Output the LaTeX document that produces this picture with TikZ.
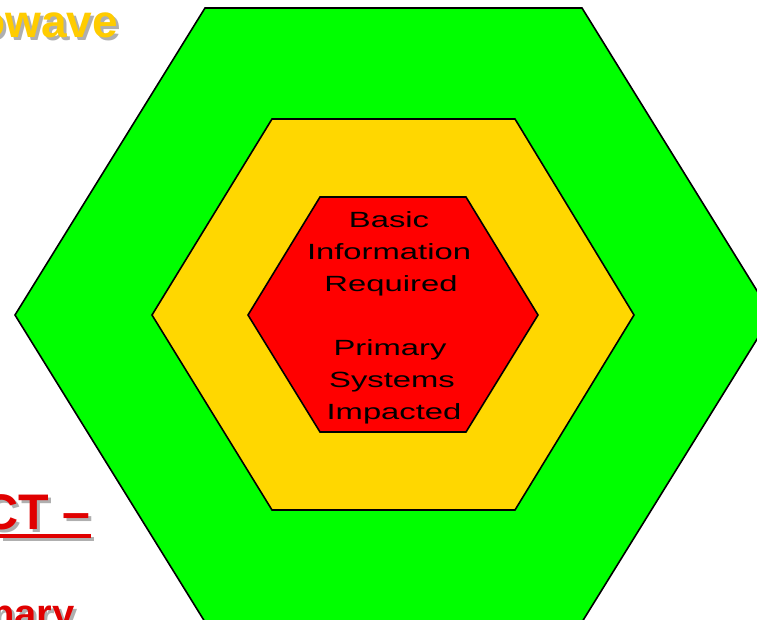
\documentclass[tikz,border=0pt]{standalone}
\usepackage{fontspec}
\setmainfont{Liberation Sans}
\usepackage{graphicx}
\definecolor{hexgreen}{RGB}{0,255,0}
\definecolor{hexgold}{RGB}{255,215,0}
\definecolor{hexred}{RGB}{255,0,0}
\definecolor{titlegold}{RGB}{255,204,0}
\definecolor{titlered}{RGB}{224,0,0}
\definecolor{shadowgray}{RGB}{175,175,175}
\tikzset{
  hexline/.style={draw=black, line width=1.6pt, line join=miter},
  inner/.style={font=\fontsize{22}{22}\selectfont, anchor=base, inner sep=0pt, text=black},
  bigtxt/.style={font=\fontsize{46}{46}\selectfont\bfseries, anchor=base east, inner sep=0pt},
  redtxt/.style={bigtxt, font=\fontsize{50}{50}\selectfont\bfseries},
  smalltxt/.style={bigtxt, font=\fontsize{40}{40}\selectfont\bfseries},
}
\newcommand{\wide}[1]{\scalebox{1.49}[1]{#1}}
\begin{document}
\begin{tikzpicture}[x=1pt,y=-1pt]
\useasboundingbox (0,0) rectangle (757,619);
\clip (0,0) rectangle (757,619);
% hexagons
\path[hexline, fill=hexgreen] (205,8) -- (582,8) -- (772,315) -- (582,622) -- (205,622) -- (15,315) -- cycle;
\path[hexline, fill=hexgold] (272,119) -- (515,119) -- (634,315) -- (515,510) -- (272,510) -- (152,315) -- cycle;
\path[hexline, fill=hexred] (320,197) -- (466,197) -- (538,315) -- (466,432) -- (320,432) -- (248,315) -- cycle;
% inner text
\node[inner] (l1) at (389,227) {\wide{Basic}};
\node[inner] (l2) at (389,259) {\wide{Information}};
\node[inner] (l3) at (391,291) {\wide{Required}};
\node[inner] (l4) at (390,355) {\wide{Primary}};
\node[inner] (l5) at (392,387) {\wide{Systems}};
\node[inner] (l6) at (394,419) {\wide{Impacted}};
% side titles with shadows
\node[bigtxt, text=shadowgray] (t1s) at (121,40) {owave};
\node[bigtxt, text=titlegold] (t1) at (118,37) {owave};
\node[redtxt, text=shadowgray] (t2s) at (94,532) {CT –};
\node[redtxt, text=titlered] (t2) at (91,529) {CT –};
\fill[shadowgray] (3,537) rectangle (94,541);
\fill[titlered] (0,534) rectangle (91,538);
\node[smalltxt, text=shadowgray] (t3s) at (78,630) {nary};
\node[smalltxt, text=titlered] (t3) at (75,627) {nary};
\end{tikzpicture}
\end{document}
